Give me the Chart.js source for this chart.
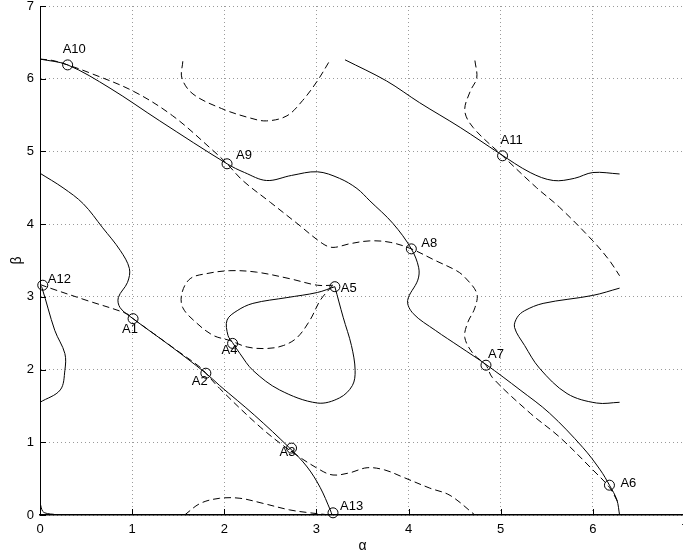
<!DOCTYPE html>
<html>
<head>
<meta charset="utf-8">
<script src="https://cdn.jsdelivr.net/npm/chart.js@4.4.1/dist/chart.umd.min.js"></script>
<style>
  html, body { margin: 0; padding: 0; background: #fff; overflow: hidden; }
  #wrap { width: 700px; height: 558px; }
</style>
</head>
<body>
<div id="wrap"><canvas id="chart" width="700" height="558"></canvas></div>
<script>
// curves as [alpha, beta] pairs
const mainSolid = [[0,6.27],[0.30,6.19],[0.76,5.87],[1.30,5.42],[2.03,4.83],[2.22,4.71],[2.46,4.60],[2.73,4.67],
  [3.01,4.72],[3.25,4.63],[3.44,4.49],[3.58,4.32],[3.83,4.01],[4.03,3.66],[4.11,3.40],[4.10,3.23],[3.99,2.95],
  [4.05,2.77],[4.29,2.54],[4.56,2.31],[4.84,2.07],[5.21,1.72],[5.53,1.40],[5.89,0.93],[6.08,0.62],[6.18,0.41],
  [6.26,0.21],[6.29,0]];
const mainDashed = [[0,6.27],[0.14,6.25],[0.30,6.19],[0.54,6.08],[1.01,5.83],[1.44,5.49],[1.88,5.01],[2.03,4.83],
  [2.20,4.60],[2.50,4.30],[2.79,4.01],[3.07,3.73],[3.18,3.68],[3.36,3.73],[3.58,3.77],[3.80,3.75],[4.03,3.66],
  [4.29,3.50],[4.52,3.36],[4.61,3.27],[4.74,3.05],[4.72,2.85],[4.64,2.64],[4.61,2.44],[4.70,2.22],[4.84,2.06],
  [4.91,1.89],[5.32,1.40],[5.64,1.07],[6.00,0.62],[6.18,0.38],[6.27,0.18]];
const upperRightSolid = [[3.31,6.26],[3.76,5.97],[4.12,5.67],[4.56,5.33],[4.99,4.97],[5.32,4.71],[5.57,4.60],
  [5.80,4.63],[6.00,4.71],[6.29,4.69]];
const upperRightDashed = [[4.72,6.25],[4.74,6.01],[4.67,5.83],[4.61,5.56],[4.70,5.33],[5.02,4.94],[5.39,4.50],
  [5.64,4.23],[6.00,3.77],[6.18,3.50],[6.29,3.29]];
const topDashed = [[1.55,6.24],[1.54,6.01],[1.66,5.79],[1.97,5.59],[2.28,5.46],[2.46,5.42],[2.68,5.49],[2.85,5.70],
  [3.01,5.97],[3.15,6.26]];
const leftSolid = [[0,4.70],[0.25,4.50],[0.47,4.28],[0.68,3.95],[0.87,3.64],[0.97,3.39],[0.95,3.20],[0.85,2.99],
  [0.87,2.85],[1.01,2.70],[1.41,2.33],[1.80,1.95],[1.95,1.78],[2.33,1.37],[2.71,0.92],[2.90,0.66],[3.04,0.38],
  [3.15,0.07],[3.17,0]];
const leftDashed = [[0,3.17],[0.11,3.12],[0.51,2.95],[0.94,2.77],[1.01,2.70],[1.49,2.26],[1.74,2.03],[1.80,1.95],
  [1.95,1.74],[2.39,1.21],[2.71,0.89],[3.04,0.62],[3.18,0.55],[3.36,0.58],[3.55,0.65],[3.74,0.62],[3.94,0.52],
  [4.23,0.37],[4.45,0.27],[4.72,0]];
const edgeSolid = [[0,3.16],[0.02,3.13],[0.16,2.54],[0.27,2.22],[0.27,1.99],[0.22,1.72],[0,1.55]];
const cornerSolid = [[0,0.17],[0.03,0.05],[0.08,0.02],[0.15,0.01]];
const loopSolid = [[3.20,3.14],[3.01,3.06],[2.68,2.99],[2.31,2.91],[2.14,2.81],[2.03,2.68],[2.04,2.47],[2.09,2.37],
  [2.17,2.22],[2.31,1.99],[2.60,1.72],[3.01,1.54],[3.25,1.61],[3.39,1.78],[3.42,1.99],[3.38,2.33],[3.29,2.72],
  [3.20,3.14]];
const loopDashed = [[3.18,3.16],[3.01,3.16],[2.71,3.25],[2.35,3.34],[2.06,3.36],[1.81,3.32],[1.63,3.25],[1.54,3.05],
  [1.55,2.85],[1.70,2.64],[1.88,2.47],[2.06,2.40],[2.25,2.31],[2.46,2.29],[2.64,2.33],[2.79,2.44],[2.93,2.68],
  [3.04,2.95],[3.15,3.12],[3.18,3.16]];
const lowerRightSolid = [[6.29,3.12],[6.00,3.02],[5.46,2.91],[5.26,2.81],[5.18,2.72],[5.15,2.58],[5.26,2.33],
  [5.42,2.02],[5.72,1.67],[6.04,1.54],[6.29,1.55]];
const bottomDashed = [[1.57,0],[1.74,0.16],[1.95,0.23],[2.17,0.23],[2.42,0.16],[2.71,0.07],[2.93,0.03],[3.15,0]];

const markerNames = ['A1','A2','A3','A4','A5','A6','A7','A8','A9','A10','A11','A12','A13'];
const markerAlpha = [1.01, 1.80, 2.73, 2.09, 3.20, 6.18, 4.84, 4.03, 2.03, 0.30, 5.02, 0.03, 3.18];
const markerBeta  = [2.70, 1.95, 0.92, 2.36, 3.14, 0.41, 2.06, 3.66, 4.83, 6.19, 4.94, 3.16, 0.03];

const xTicks = [0, 1, 2, 3, 4, 5, 6, 7];
const yTicks = [0, 1, 2, 3, 4, 5, 6, 7];

// where each label sits relative to its circle (px)
const labelShift = {
  A1: [-11, 11], A2: [-14, 8], A3: [-12, 4], A4: [-11, 7], A5: [6, 2], A6: [11, -2], A7: [2, -11],
  A8: [10, -5], A9: [9, -8], A10: [-5, -15], A11: [-2, -15], A12: [5, -6], A13: [7, -6]
};

const FONT = '"Liberation Sans", Arial, Helvetica, sans-serif';

const curve = (pts, dashed) => ({
  data: pts.map(p => ({ x: p[0], y: p[1] })),
  showLine: true,
  borderColor: '#000',
  borderWidth: 1,
  borderDash: dashed ? [7, 4] : [],
  pointRadius: 0,
  tension: 0.35,
  fill: false
});

const markerLabels = {
  id: 'markerLabels',
  afterDatasetsDraw(chart) {
    const { ctx, scales: { x, y } } = chart;
    ctx.save();
    ctx.font = '13px ' + FONT;
    ctx.fillStyle = '#000';
    ctx.textBaseline = 'middle';
    ctx.textAlign = 'left';
    markerNames.forEach((name, i) => {
      const px = x.getPixelForValue(markerAlpha[i]);
      const py = y.getPixelForValue(markerBeta[i]);
      const s = labelShift[name];
      ctx.fillText(name, px + s[0], py + s[1]);
    });
    ctx.restore();
  }
};

// matlab style ticks pointing into the plot
const innerTicks = {
  id: 'innerTicks',
  afterDraw(chart) {
    const { ctx, chartArea, scales: { x, y } } = chart;
    ctx.save();
    ctx.strokeStyle = '#000';
    ctx.lineWidth = 1;
    ctx.beginPath();
    xTicks.forEach(v => {
      const px = Math.round(x.getPixelForValue(v)) + 0.5;
      ctx.moveTo(px, chartArea.bottom);
      ctx.lineTo(px, chartArea.bottom - 6);
    });
    yTicks.forEach(v => {
      const py = Math.round(y.getPixelForValue(v)) + 0.5;
      ctx.moveTo(chartArea.left, py);
      ctx.lineTo(chartArea.left + 6, py);
    });
    ctx.stroke();
    ctx.restore();
  }
};

new Chart(document.getElementById('chart'), {
  type: 'scatter',
  data: {
    datasets: [
      curve(mainSolid, false),
      curve(mainDashed, true),
      curve(upperRightSolid, false),
      curve(upperRightDashed, true),
      curve(topDashed, true),
      curve(leftSolid, false),
      curve(leftDashed, true),
      curve(edgeSolid, false),
      curve(cornerSolid, false),
      curve(loopSolid, false),
      curve(loopDashed, true),
      curve(lowerRightSolid, false),
      curve(bottomDashed, true),
      {
        data: markerAlpha.map((a, i) => ({ x: a, y: markerBeta[i] })),
        showLine: false,
        pointStyle: 'circle',
        pointRadius: 5,
        pointBorderWidth: 1,
        pointBorderColor: '#000',
        pointBackgroundColor: 'rgba(0,0,0,0)',
        clip: false
      }
    ]
  },
  options: {
    responsive: false,
    animation: false,
    events: [],
    layout: { padding: { left: 0, right: 15, top: 5, bottom: 0 } },
    plugins: { legend: { display: false }, tooltip: { enabled: false } },
    scales: {
      x: {
        type: 'linear', min: 0, max: 7,
        ticks: { stepSize: 1, color: '#000', font: { family: FONT, size: 13 }, padding: 7 },
        grid: { color: '#9a9a9a', drawTicks: false, lineWidth: 1 },
        border: { color: '#000', width: 1.5, dash: [1, 3] },
        title: { display: true, text: 'α', color: '#000', font: { family: FONT, size: 14 }, padding: { top: 0, bottom: 3 } },
        afterFit(s) { s.height = 43; s.paddingLeft = 0; s.paddingRight = 0; }
      },
      y: {
        type: 'linear', min: 0, max: 7,
        ticks: { stepSize: 1, color: '#000', font: { family: FONT, size: 13 }, padding: 6 },
        grid: { color: '#9a9a9a', drawTicks: false, lineWidth: 1 },
        border: { color: '#000', width: 1, dash: [1, 3] },
        title: { display: true, text: 'β', color: '#000', font: { family: FONT, size: 14 }, padding: { top: 9, bottom: 0 } },
        afterFit(s) { s.width = 40; s.paddingTop = 0; s.paddingBottom = 0; }
      }
    }
  },
  plugins: [markerLabels, innerTicks]
});
</script>
</body>
</html>
